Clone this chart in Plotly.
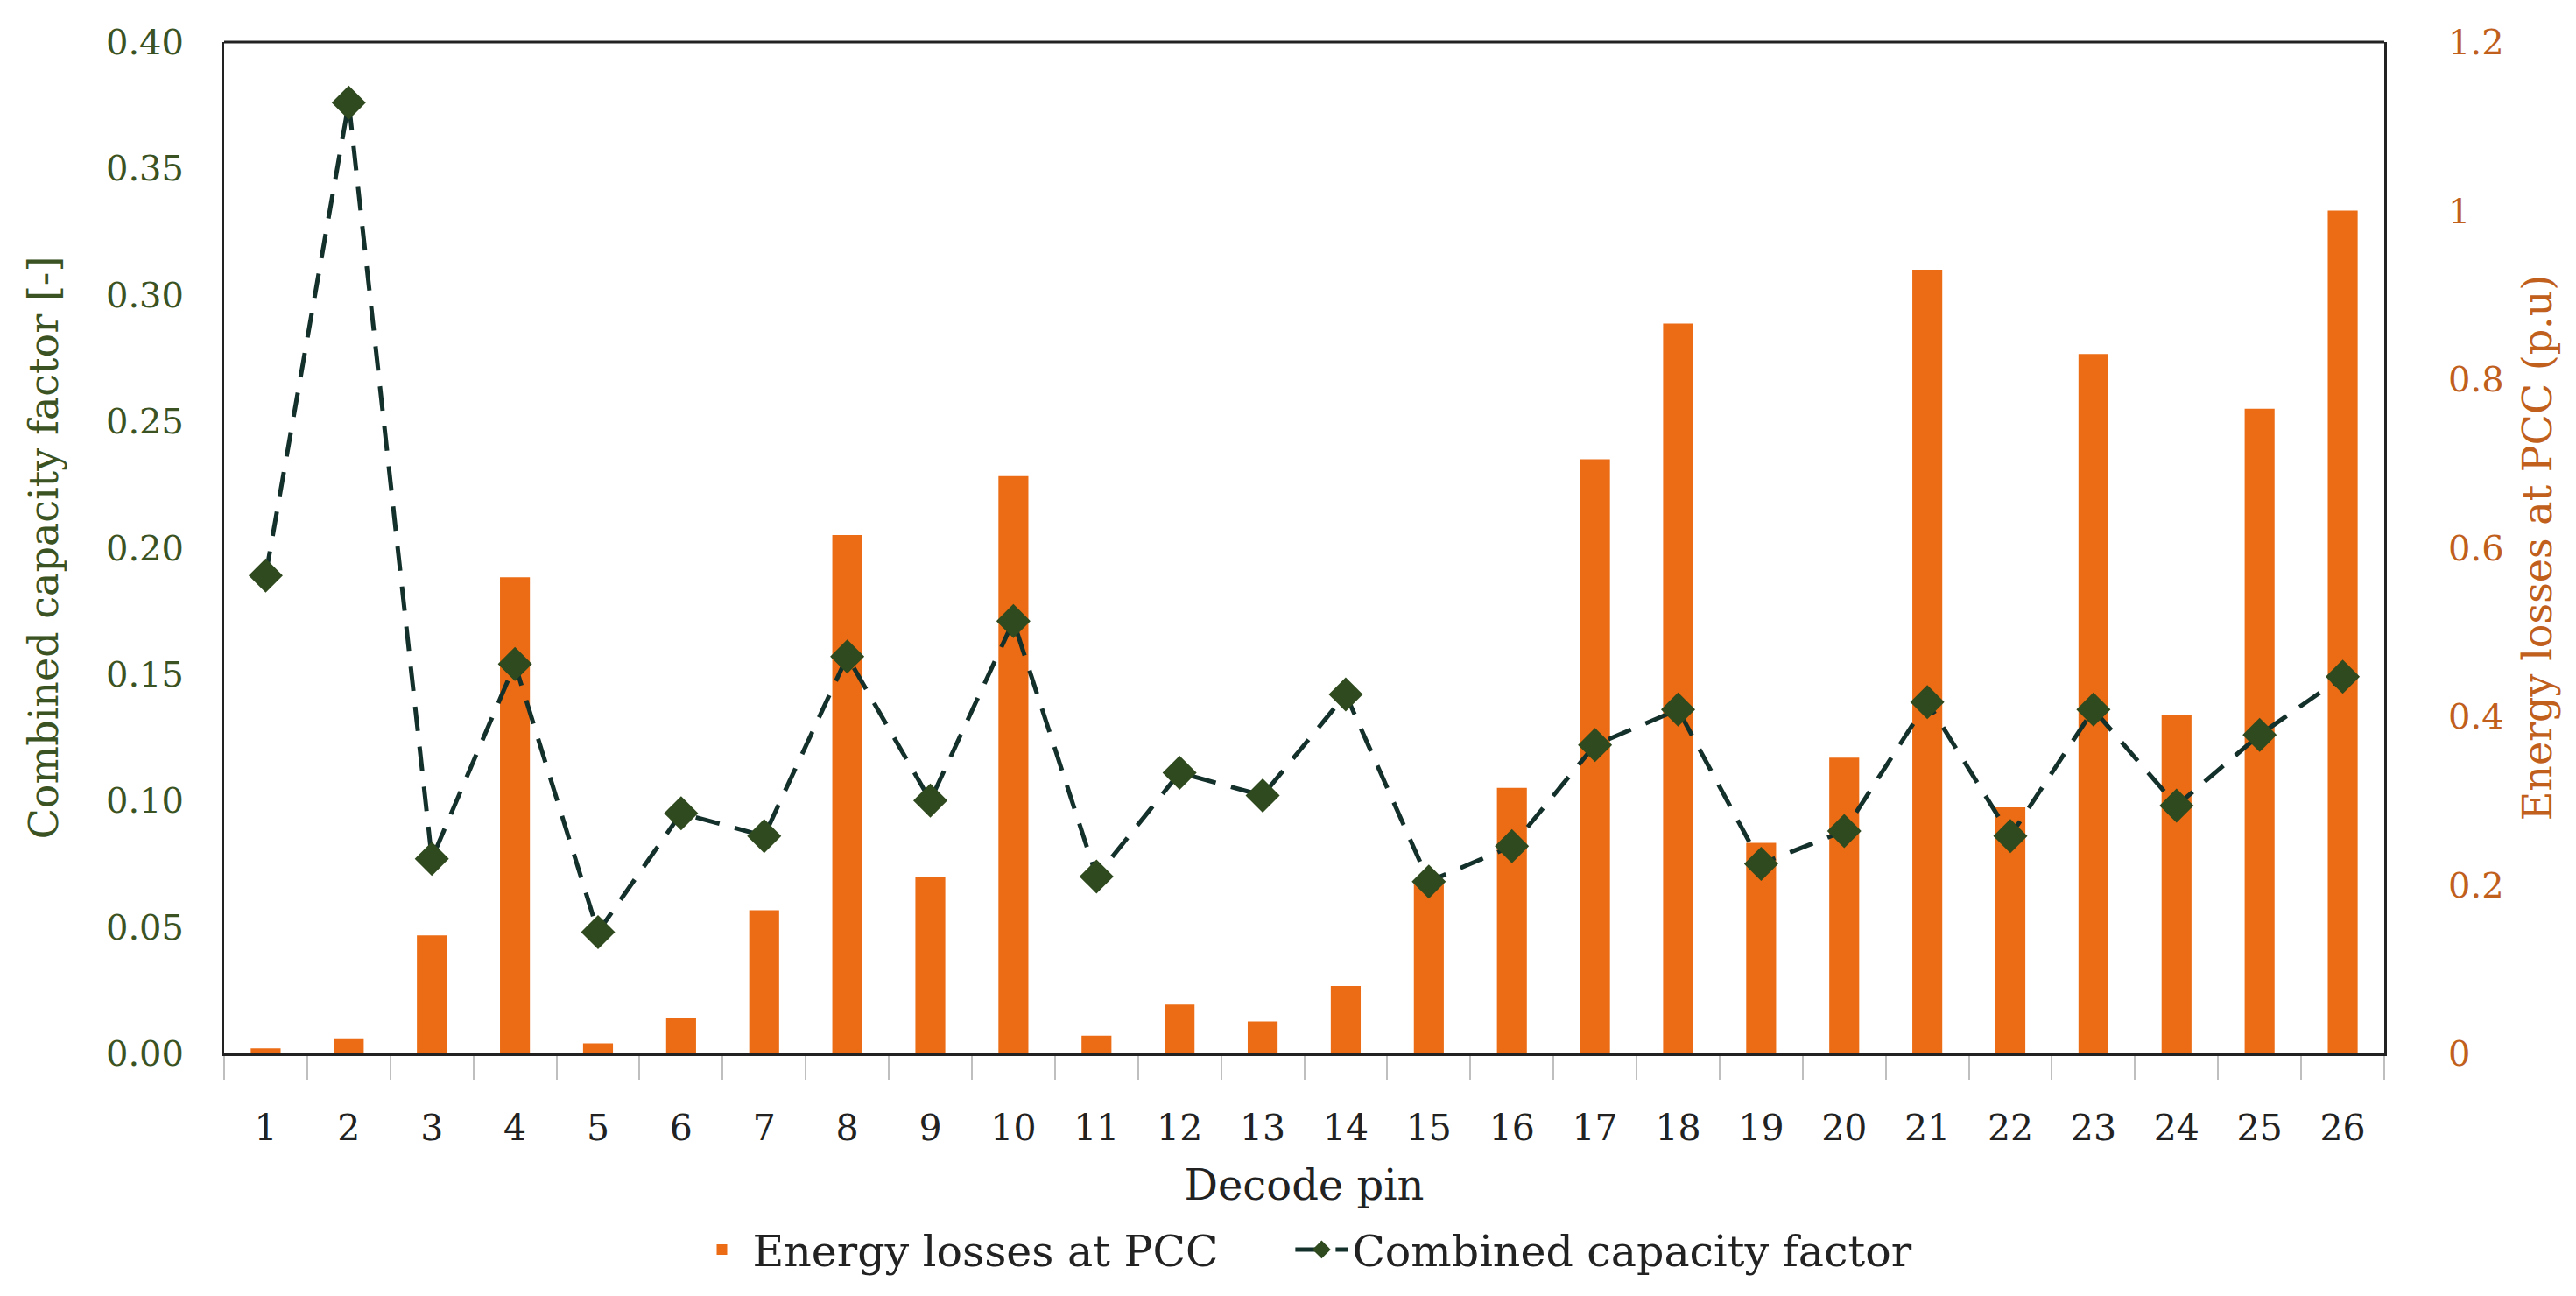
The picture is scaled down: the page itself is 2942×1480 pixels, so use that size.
import plotly.graph_objects as go

pins = [str(i) for i in range(1, 27)]
energy_losses = [0.006, 0.018, 0.14, 0.565, 0.012, 0.042, 0.17, 0.615, 0.21, 0.685,
                 0.021, 0.058, 0.038, 0.08, 0.205, 0.315, 0.705, 0.866, 0.25, 0.351,
                 0.93, 0.292, 0.83, 0.402, 0.765, 1.0]
capacity_factor = [0.189, 0.376, 0.077, 0.154, 0.048, 0.095, 0.086, 0.157, 0.100, 0.171,
                   0.070, 0.111, 0.102, 0.142, 0.068, 0.082, 0.122, 0.136, 0.075, 0.088,
                   0.139, 0.086, 0.136, 0.098, 0.126, 0.149]

FONT = "DejaVu Serif"
GREEN = "#3B5323"
ORANGE_TXT = "#C0601C"
BAR = "#EB6C14"
TXT = "#222222"
PAD = "\u00a0" * 5

fig = go.Figure()
fig.add_trace(go.Bar(
    x=pins, y=energy_losses, name="Energy losses at PCC" + PAD,
    marker=dict(color=BAR, line=dict(width=0)), width=0.36, yaxis="y",
))
fig.add_trace(go.Scatter(
    x=pins, y=capacity_factor, name="Combined capacity factor", mode="lines+markers",
    line=dict(color="#14302B", width=5, dash="28px,18px"),
    marker=dict(symbol="diamond", size=30, color="#2E4A1E"),
    yaxis="y2",
))

fig.update_layout(
    width=2942, height=1480,
    margin=dict(l=248, r=227, t=40, b=285),
    plot_bgcolor="white", paper_bgcolor="white",
    font=dict(family=FONT, size=40, color=TXT),
    showlegend=True,
    legend=dict(orientation="h", x=0.5, xanchor="center", y=-0.194, yanchor="middle",
                font=dict(size=49, color=TXT), itemwidth=60),
    xaxis=dict(
        type="category", range=[-0.5, 25.5],
        showline=True, linecolor="#222222", linewidth=3,
        ticks="outside", tickson="boundaries", ticklen=27, tickcolor="#BFBFBF", tickwidth=2,
        ticklabelstandoff=47,
        tickfont=dict(size=41, color=TXT),
        title=dict(text="Decode pin", font=dict(size=48, color=TXT), standoff=26),
        showgrid=False, zeroline=False,
    ),
    yaxis=dict(
        range=[0, 1.2], dtick=0.2, side="right", showgrid=False, zeroline=False,
        showline=True, linecolor="#222222", linewidth=3, ticks="",
        ticklabelstandoff=62,
        tickfont=dict(size=40, color=ORANGE_TXT),
        title=dict(text="Energy losses at PCC (p.u)", font=dict(size=46, color=ORANGE_TXT), standoff=24),
    ),
    yaxis2=dict(
        range=[0, 0.40], dtick=0.05, tickformat=".2f", overlaying="y", side="left",
        showgrid=False, zeroline=False,
        showline=True, linecolor="#222222", linewidth=3, ticks="",
        ticklabelstandoff=35,
        tickfont=dict(size=40, color=GREEN),
        title=dict(text="Combined capacity factor [-]", font=dict(size=46, color=GREEN), standoff=40),
    ),
    shapes=[dict(type="line", xref="paper", yref="paper", x0=0, x1=1, y0=1, y1=1,
                 line=dict(color="#222222", width=3))],
)

fig.write_html("out.html")
